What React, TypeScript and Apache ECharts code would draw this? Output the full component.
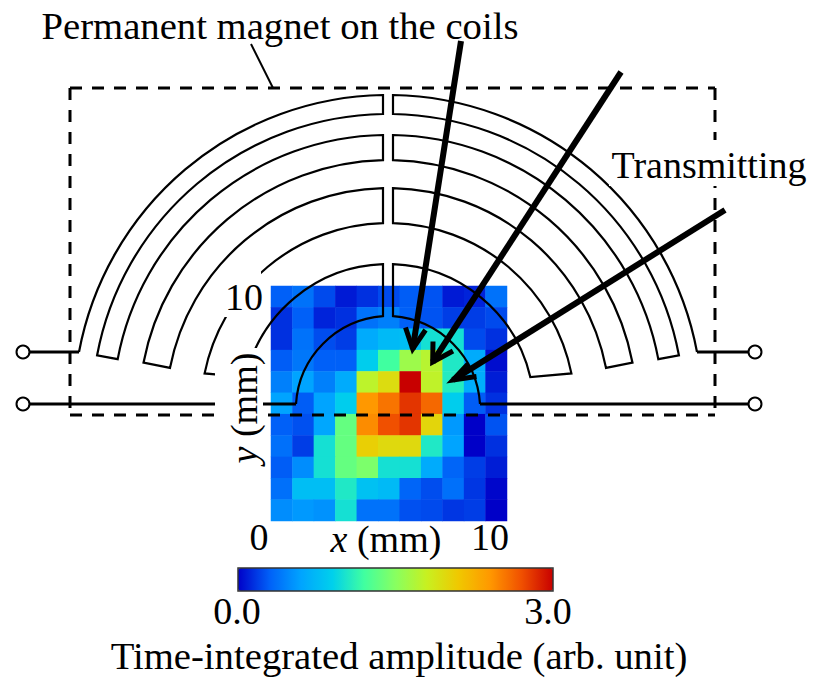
import React, { useEffect, useRef } from "react";
import * as echarts from "echarts";

const xCells = ["0","1","2","3","4","5","6","7","8","9","10"];
const yCells = ["0","1","2","3","4","5","6","7","8","9","10"];
// rows listed top to bottom
const amplitudeRows: number[][] = [
  [0.30,0.38,0.23,0.08,0.15,0.23,0.29,0.26,0.08,0.11,0.38],
  [0.15,0.30,0.11,0.15,0.38,0.44,0.30,0.26,0.19,0.19,0.23],
  [0.15,0.38,0.24,0.19,0.65,0.75,0.78,1.00,1.00,0.23,0.15],
  [0.29,0.40,0.30,0.30,0.88,1.20,1.60,1.72,1.05,0.65,0.04],
  [0.44,0.60,0.44,0.65,1.75,1.95,3.00,1.76,1.07,0.67,0.09],
  [0.60,0.29,0.60,0.88,2.40,2.55,2.80,2.60,0.88,0.29,0.15],
  [0.30,0.25,0.62,1.35,2.45,2.70,2.80,2.00,0.55,0.00,0.26],
  [0.37,0.19,1.00,1.35,2.05,1.97,1.97,1.05,0.60,0.00,0.15],
  [0.29,0.50,1.00,1.35,1.45,1.00,1.00,0.65,0.32,0.19,0.09],
  [0.37,0.78,0.78,1.05,0.80,0.75,0.32,0.24,0.37,0.17,0.02],
  [0.50,0.55,0.52,1.00,0.38,0.38,0.25,0.23,0.17,0.19,0.00],
];
const jetColors = ["#0000c8","#0060f8","#00a4ff","#00d0ec","#40ffa0","#88ff60","#c8f020","#f0c800","#ff9800","#f05000","#c80000"];
const colorMin = 0;
const colorMax = 3;
const xTicks = ["0", "10"];
const yTicks = ["10"];
const colorTicks = ["0.0", "3.0"];

const FONT = '"Liberation Serif", "Times New Roman", serif';
const FS = 38;
const FS_WIDE = 38.7;
const CX = 388;
const CY = 410;

function pt(r: number, ang: number, side: number) {
  return [CX + side * r * Math.cos(ang), CY - r * Math.sin(ang)];
}
function ringPath(side: number, gapX: number) {
  // one half of the meander coil, from the outer lead end to the inner lead end
  const sweepToTop = side < 0 ? 1 : 0;
  const sweepFromTop = side < 0 ? 0 : 1;
  const topY = (r: number) => CY - Math.sqrt(r * r - (gapX - CX) * (gapX - CX));
  const a = (r: number, x: number, y: number, sweep: number) => `A${r} ${r} 0 0 ${sweep} ${x.toFixed(1)} ${y.toFixed(1)}`;
  const angA = 0.186;
  const angB = 0.191;
  const angC = 0.197;
  const pA1 = pt(296, angA, side), pA2 = pt(275, angA, side);
  const pB1 = pt(249, angB, side), pB2 = pt(222, angB, side);
  const pC1 = pt(187, angC, side), pC2 = pt(146, angC + 0.03, side);
  const start = side < 0 ? [79, 352] : [697, 352];
  const end = side < 0 ? [296, 404] : [480, 404];
  return [
    `M${start[0]} ${start[1]}`,
    a(315, gapX, topY(315), sweepToTop),
    `L${gapX} ${topY(296).toFixed(1)}`,
    a(296, pA1[0], pA1[1], sweepFromTop),
    `L${pA2[0].toFixed(1)} ${pA2[1].toFixed(1)}`,
    a(275, gapX, topY(275), sweepToTop),
    `L${gapX} ${topY(250).toFixed(1)}`,
    a(250, pB1[0], pB1[1], sweepFromTop),
    `L${pB2[0].toFixed(1)} ${pB2[1].toFixed(1)}`,
    a(222, gapX, topY(222), sweepToTop),
    `L${gapX} ${topY(187).toFixed(1)}`,
    a(187, pC1[0], pC1[1], sweepFromTop),
    `L${pC2[0].toFixed(1)} ${pC2[1].toFixed(1)}`,
    a(146, gapX, topY(146), sweepToTop),
    `L${gapX} ${topY(94).toFixed(1)}`,
    a(94, end[0], end[1], sweepFromTop),
  ].join(" ");
}
echarts.graphic.registerShape("coilLeft", echarts.graphic.extendPath(ringPath(-1, 383), {}) as any);
echarts.graphic.registerShape("coilRight", echarts.graphic.extendPath(ringPath(1, 393), {}) as any);

const heatData: number[][] = [];
amplitudeRows.forEach((row, r) => row.forEach((v, c) => heatData.push([c, r, v])));

function line(x1: number, y1: number, x2: number, y2: number, lineWidth: number, z = 20, dash?: number[]) {
  return {
    type: "line", z, silent: true,
    shape: { x1, y1, x2, y2 },
    style: { stroke: "#000", lineWidth, lineDash: dash, fill: "none" },
  };
}
function arrow(x1: number, y1: number, tx: number, ty: number, b1: number[], b2: number[]) {
  return [
    line(x1, y1, tx, ty, 6, 40),
    { type: "polyline", z: 40, silent: true, shape: { points: [b1, [tx, ty], b2] },
      style: { stroke: "#000", lineWidth: 5, fill: "none", lineJoin: "miter" } },
  ];
}
function label(text: string, x: number, y: number, fontSize: number, extra: any = {}) {
  return {
    type: "text", z: 50, silent: true, x, y,
    style: { text, fontFamily: FONT, fontSize, fill: "#000", align: "center", verticalAlign: "middle", ...extra },
  };
}
function mask(x: number, y: number, width: number, height: number) {
  return { type: "rect", z: 30, silent: true, shape: { x, y, width, height }, style: { fill: "#fff" } };
}
function terminal(cx: number, cy: number) {
  return { type: "circle", z: 35, silent: true, shape: { cx, cy, r: 6.5 }, style: { fill: "#fff", stroke: "#000", lineWidth: 2 } };
}

export default function App() {
  const ref = useRef<HTMLDivElement>(null);
  useEffect(() => {
    const chart = echarts.init(ref.current!, undefined, { renderer: "svg" });
    const dash = [12, 10];
    chart.setOption({
      animation: false,
      backgroundColor: "#fff",
      grid: { left: 271, top: 286, width: 236, height: 235 },
      xAxis: { type: "category", data: xCells, show: false },
      yAxis: { type: "category", data: yCells, inverse: true, show: false },
      visualMap: {
        type: "continuous", min: colorMin, max: colorMax, orient: "horizontal",
        left: 238, top: 568, itemWidth: 23, itemHeight: 315, show: true, calculable: false,
        text: ["", ""], showLabel: false, padding: 0, seriesIndex: 0,
        inRange: { color: jetColors },
      },
      series: [{ type: "heatmap", data: heatData, itemStyle: { borderWidth: 0 }, progressive: 0, z: 2 }],
      graphic: [
        // coils
        { type: "coilLeft", z: 20, silent: true, style: { fill: "none", stroke: "#000", lineWidth: 2.2 } },
        { type: "coilRight", z: 20, silent: true, style: { fill: "none", stroke: "#000", lineWidth: 2.2 } },
        // magnet outline
        line(70, 88, 715, 88, 3, 20, dash),
        line(70, 88, 70, 415, 3, 20, dash),
        line(70, 415, 715, 415, 3, 20, dash),
        line(715, 88, 715, 415, 3, 20, dash),
        line(251, 44, 273, 88, 2),
        // leads
        line(30, 352, 79, 352, 3),
        line(30, 404, 296, 404, 3),
        line(480, 404, 748, 404, 3),
        line(697, 352, 748, 352, 3),
        // white boxes behind labels
        mask(224, 271, 37, 46),
        mask(215, 348, 48, 74),
        mask(609, 140, 196, 46),
        terminal(23, 352), terminal(23, 404), terminal(755, 352), terminal(755, 404),
        ...arrow(461, 41, 412.7, 349, [405.5, 327.5], [425.5, 330]),
        ...arrow(621, 72, 432.7, 362, [433, 341.5], [453, 351]),
        ...arrow(725, 210, 453, 380, [468, 364], [476.5, 376.5]),
        { type: "rect", z: 45, silent: true, shape: { x: 238, y: 568, width: 315, height: 23 }, style: { fill: "none", stroke: "#333", lineWidth: 1.5 } },
        // texts
        label("Permanent magnet on the coils", 280, 26, FS_WIDE),
        label("Transmitting", 709, 165, FS),
        label(yTicks[0], 244, 297, FS),
        label(xTicks[0], 259, 537, FS),
        label(xTicks[1], 490, 537, FS),
        {
          type: "text", z: 50, silent: true, x: 244, y: 408, rotation: Math.PI / 2,
          style: {
            text: "{i|y} (mm)", fontFamily: FONT, fontSize: FS, fill: "#000", align: "center", verticalAlign: "middle",
            rich: { i: { fontStyle: "italic", fontFamily: FONT, fontSize: FS } },
          },
        },
        {
          type: "text", z: 50, silent: true, x: 386, y: 539,
          style: {
            text: "{i|x} (mm)", fontFamily: FONT, fontSize: FS, fill: "#000", align: "center", verticalAlign: "middle",
            rich: { i: { fontStyle: "italic", fontFamily: FONT, fontSize: FS } },
          },
        },
        label(colorTicks[0], 237, 611, FS),
        label(colorTicks[1], 548, 611, FS),
        label("Time-integrated amplitude (arb. unit)", 399, 656, FS_WIDE),
      ],
    });
    return () => chart.dispose();
  }, []);
  return <div ref={ref} style={{ position: "fixed", left: 0, top: 0, width: 813, height: 684 }} />;
}
